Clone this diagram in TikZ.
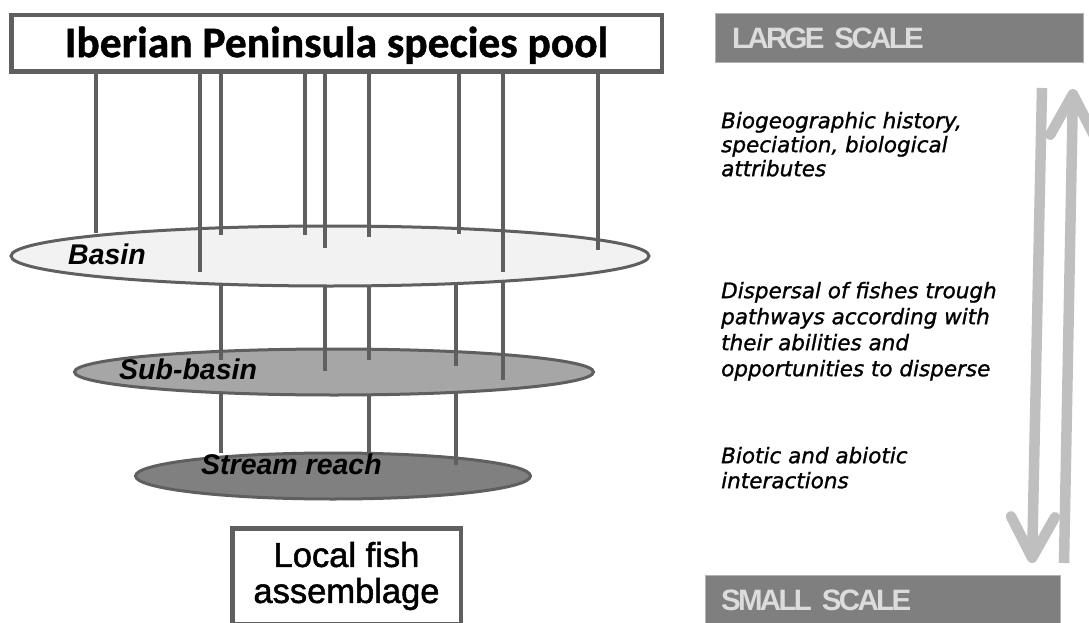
\documentclass[tikz,border=0pt]{standalone}
\usepackage{fontspec}
\setmainfont{Liberation Sans}
\newfontfamily\poolfont[FakeBold=1]{Carlito}
\newfontfamily\localfont[FakeBold=1.5]{Liberation Sans}
\newfontfamily\notefont[FakeBold=1.2]{DejaVu Sans}
\usetikzlibrary{arrows.meta, positioning, shapes.geometric}

\definecolor{edgegray}{HTML}{5F5F5F}
\definecolor{basinfill}{HTML}{F2F2F2}
\definecolor{subfill}{HTML}{A6A6A6}
\definecolor{reachfill}{HTML}{808080}
\definecolor{barfill}{HTML}{7F7F7F}
\definecolor{bartext}{HTML}{DCDCDC}
\definecolor{arrowgray}{HTML}{BFBFBF}

\begin{document}
\begin{tikzpicture}[
  x=1pt, y=-1pt,
  box/.style={rectangle, draw=edgegray, line width=4.5pt, fill=white, inner sep=0pt},
  plane/.style={ellipse, draw=edgegray, line width=3pt, inner sep=0pt},
  planelabel/.style={anchor=west, inner sep=0pt,
                     font=\fontsize{28.5}{30}\selectfont\bfseries\itshape},
  link/.style={draw=edgegray, line width=4pt},
  scalebar/.style={rectangle, fill=barfill, draw=black!30, line width=1pt,
                   minimum height=49pt, align=left, text=bartext,
                   text height=20.8pt, text depth=0pt,
                   font=\fontsize{29.5}{31}\selectfont\bfseries\addfontfeatures{LetterSpace=-9}},
  note/.style={anchor=north west, inner sep=0pt, align=left},
  scalearrow/.style={draw=arrowgray, line width=10.5pt,
                     -{Straight Barb[length=41pt, width=44pt, round]}}
]
\useasboundingbox (0,0) rectangle (1089,623);
\clip (0,0) rectangle (1089,623);
\fill[white] (0,0) rectangle (1089,623);

% centres of the three planes
\coordinate (basinc) at (330,256);
\coordinate (subc) at (334,372);
\coordinate (reachc) at (333,476);

% planes from bottom to top, each over the links that leave it
\node[plane, fill=reachfill, minimum width=395pt, minimum height=46pt] (reach) at (reachc) {};
\draw[link] (221,0 |- subc) -- (221,453);
\draw[link] (369,0 |- subc) -- (369,457);
\draw[link] (456,0 |- subc) -- (456,465);

\node[plane, fill=subfill, minimum width=519pt, minimum height=46pt] (subbasin) at (subc) {};
\draw[link] (221,0 |- basinc) -- (221,360);
\draw[link] (325,0 |- basinc) -- (325,371);
\draw[link] (369,0 |- basinc) -- (369,360);
\draw[link] (456,0 |- basinc) -- (456,366);
\draw[link] (503,0 |- basinc) -- (503,380);

\node[plane, fill=basinfill, minimum width=638pt, minimum height=60pt] (basin) at (basinc) {};

\node[box, minimum width=650.5pt, minimum height=56.5pt, text height=27.2pt, text depth=0pt,
      font=\poolfont\bfseries\fontsize{43.5}{45}\selectfont] (pool) at (336.5,43.5)
      {Iberian Peninsula species pool};
\draw[link] (96,0 |- pool.south) -- (96,233);
\draw[link] (200,0 |- pool.south) -- (200,272);
\draw[link] (221,0 |- pool.south) -- (221,235);
\draw[link] (305,0 |- pool.south) -- (305,235);
\draw[link] (325,0 |- pool.south) -- (325,248);
\draw[link] (369,0 |- pool.south) -- (369,237);
\draw[link] (459,0 |- pool.south) -- (459,234);
\draw[link] (503,0 |- pool.south) -- (503,272);
\draw[link] (598,0 |- pool.south) -- (598,250);

\node[planelabel] (basinlbl) at (68,254) {Basin};
\node[planelabel] (sublbl) at (119,369) {Sub-basin};
\node[planelabel] (reachlbl) at (201,464) {Stream reach};

\node[box, minimum width=228.5pt, minimum height=95.5pt, align=center,
      font=\localfont\fontsize{34.5}{36}\selectfont] (local) at (346.5,576)
      {Local fish\\assemblage};

% scale side
\node[scalebar, minimum width=368pt, inner xsep=16.5pt, text width=335pt] (large) at (899.5,38) {LARGE SCALE};
\node[scalebar, minimum width=355pt, inner xsep=15.5pt, text width=324pt] (small) at (883,600) {SMALL SCALE};

\node[note, font=\notefont\itshape\fontsize{21.5}{24}\selectfont] (history) at (721,111.7)
  {Biogeographic history,\\speciation, biological\\attributes};
\node[note, font=\notefont\itshape\fontsize{21.5}{26}\selectfont] (dispersal) at (721,281.7)
  {Dispersal of fishes trough\\pathways according with\\their abilities  and\\opportunities to disperse};
\node[note, font=\notefont\itshape\fontsize{21.5}{25}\selectfont] (biotic) at (721,446.7)
  {Biotic and abiotic\\interactions};

\coordinate (downtop) at (1042,88);
\coordinate (downtip) at (1032,563);
\coordinate (uptail) at (1064,563);
\coordinate (uptip) at (1073,89);
\draw[scalearrow] (downtop) -- (downtip);
\draw[scalearrow] (uptail) -- (uptip);
\end{tikzpicture}
\end{document}
